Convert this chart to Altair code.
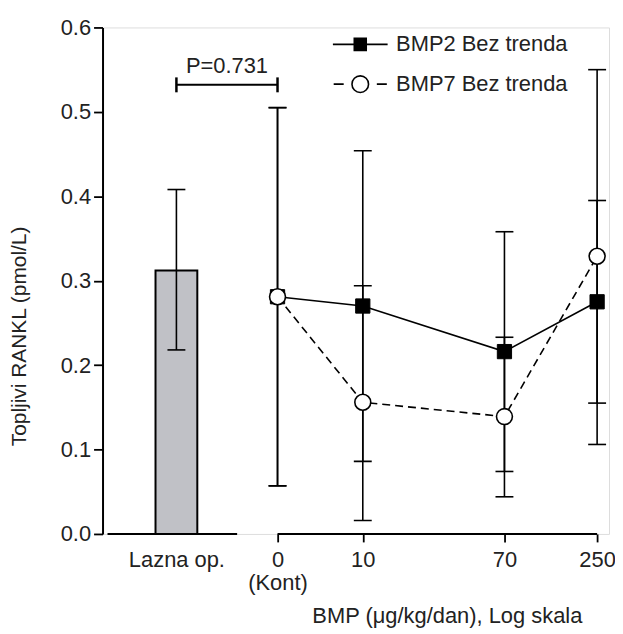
import altair as alt
import pandas as pd

# ---------------- data ----------------
sham_label = ["Lazna op."]
sham_mean = [0.312]
sham_lo = [0.218]
sham_hi = [0.408]

dose_values = [0, 10, 70, 250]
dose_labels = ["0", "10", "70", "250"]
kont_label = "(Kont)"

series_names = ["BMP2 Bez trenda", "BMP7 Bez trenda"]

bmp2_mean = [0.281, 0.270, 0.216, 0.275]
bmp2_lo = [0.057, 0.086, 0.074, 0.155]
bmp2_hi = [0.505, 0.454, 0.358, 0.395]

bmp7_mean = [0.281, 0.156, 0.139, 0.329]
bmp7_lo = [0.057, 0.016, 0.044, 0.106]
bmp7_hi = [0.505, 0.294, 0.233, 0.550]

p_text = ["P=0.731"]
p_level = [0.532]

y_ticks = [0.0, 0.1, 0.2, 0.3, 0.4, 0.5, 0.6]

# ---------------- layout constants ----------------
KONT_POS = 3.1        # where dose 0 (control) sits on the log axis
SHAM_POS = 0.773      # where the sham bar sits on the same axis
X_DOMAIN = [0.3, 275]
LEFT_AXIS_END = 1.78
FONT = "Liberation Sans"
TXT = "#222222"
W, H = 509, 509

rows = []
for name, m, lo, hi in [(series_names[0], bmp2_mean, bmp2_lo, bmp2_hi),
                        (series_names[1], bmp7_mean, bmp7_lo, bmp7_hi)]:
    for d, mv, l, h in zip(dose_values, m, lo, hi):
        rows.append(dict(series=name, dose=d, xpos=(d if d > 0 else KONT_POS),
                         mean=mv, lo=l, hi=h))
df = pd.DataFrame(rows)

sham = pd.DataFrame({"group": sham_label, "xpos": [SHAM_POS], "mean": sham_mean,
                     "lo": sham_lo, "hi": sham_hi})

bracket = pd.DataFrame({"x1": [SHAM_POS], "x2": [KONT_POS], "y": p_level, "label": p_text,
                        "xm": [(SHAM_POS * KONT_POS) ** 0.5]})
bracket_ends = pd.DataFrame({"x": [SHAM_POS, KONT_POS], "y": p_level * 2})
axis_segments = pd.DataFrame({"x1": [X_DOMAIN[0], KONT_POS], "x2": [LEFT_AXIS_END, dose_values[-1]],
                              "y": [0.0, 0.0]})

# ---------------- scales / axes ----------------
xscale = alt.Scale(type="log", domain=X_DOMAIN, nice=False)
yscale = alt.Scale(domain=[0, 0.6], nice=False)

label_expr = (
    f"datum.value < 1 ? '{sham_label[0]}' : datum.value < 5 ? ['{dose_labels[0]}', '{kont_label}'] : "
    + " : ".join([f"datum.value == {v} ? '{l}'" for v, l in zip(dose_values[1:], dose_labels[1:])])
    + " : ''"
)

xaxis = alt.Axis(
    values=[SHAM_POS, KONT_POS] + dose_values[1:],
    labelExpr=label_expr,
    domain=False, grid=False,
    tickSize=8, tickWidth=1.8, tickColor="black",
    tickOpacity={"condition": {"test": "datum.value < 1", "value": 0}, "value": 1},
    labelFont=FONT, labelFontSize=22, labelColor=TXT, labelPadding=8,
    labelLineHeight=23, labelFlush=False, labelOverlap=False,
    title="BMP (\u03bcg/kg/dan), Log skala", titleFont=FONT, titleFontSize=22,
    titleFontWeight="normal", titleColor=TXT,
    titleX=346, titleY=89, titleAnchor="middle", titleAlign="center", titleBaseline="alphabetic",
)
yaxis = alt.Axis(
    values=y_ticks, format=".1f", grid=False,
    domainColor="black", domainWidth=2,
    tickSize=9, tickWidth=1.8, tickColor="black",
    labelFont=FONT, labelFontSize=22, labelColor=TXT, labelPadding=3,
    title="Topljivi RANKL (pmol/L)", titleFont=FONT, titleFontSize=21,
    titleFontWeight="normal", titleColor=TXT,
    titleX=-83, titleY=310, titleAngle=-90, titleAlign="center", titleBaseline="middle",
)


def X(field):
    return alt.X(field, type="quantitative", scale=xscale, axis=xaxis)


def Y(field):
    return alt.Y(field, type="quantitative", scale=yscale, axis=yaxis)


def caps(data, field, size, orient="horizontal", thickness=1.6):
    return alt.Chart(data).mark_tick(orient=orient, size=size, thickness=thickness,
                                     color="black", opacity=1).encode(x=X("xpos" if orient == "horizontal" else "x"), y=Y(field))


# ---------------- layers ----------------
bar = alt.Chart(sham).mark_bar(size=42, fill="#c0c1c6", stroke="black", strokeWidth=2).encode(
    x=X("xpos"), y=Y("mean"))

sham_err = alt.Chart(sham).mark_rule(color="black", strokeWidth=1.6).encode(
    x=X("xpos"), y=Y("lo"), y2="hi")
sham_cap_hi = caps(sham, "hi", 18)
sham_cap_lo = caps(sham, "lo", 18)

err = alt.Chart(df).mark_rule(color="black", strokeWidth=1.6).encode(
    x=X("xpos"), y=Y("lo"), y2="hi")
cap_hi = caps(df, "hi", 18)
cap_lo = caps(df, "lo", 18)

line2 = alt.Chart(df[df.series == series_names[0]]).mark_line(color="black", strokeWidth=1.6).encode(
    x=X("xpos"), y=Y("mean"))
line7 = alt.Chart(df[df.series == series_names[1]]).mark_line(
    color="black", strokeWidth=1.6, strokeDash=[8, 5]).encode(x=X("xpos"), y=Y("mean"))

pts2 = alt.Chart(df[df.series == series_names[0]]).mark_point(
    shape="square", size=205, filled=True, fill="black", stroke="black", strokeWidth=1, opacity=1).encode(
    x=X("xpos"), y=Y("mean"))
pts7 = alt.Chart(df[df.series == series_names[1]]).mark_point(
    shape="circle", size=256, filled=True, fill="white", stroke="black", strokeWidth=1.6, opacity=1).encode(
    x=X("xpos"), y=Y("mean"))

br_rule = alt.Chart(bracket).mark_rule(color="black", strokeWidth=2).encode(
    x=X("x1"), x2="x2", y=Y("y"))
br_caps = caps(bracket_ends, "y", 15, orient="vertical", thickness=2.5)
br_text = alt.Chart(bracket).mark_text(font=FONT, fontSize=22, color=TXT, dy=-12,
                                       baseline="alphabetic", align="center").encode(
    x=X("xm"), y=Y("y"), text="label:N")

axis_lines = alt.Chart(axis_segments).mark_rule(color="black", strokeWidth=2).encode(
    x=X("x1"), x2="x2", y=Y("y"))

path2 = "M-1.833,0H1.833M-0.4,-0.4H0.4V0.4H-0.4Z"
path7 = ("M-1.78,0H-1.11M1.11,0H1.78M-0.555,0A0.555,0.555,0,1,0,0.555,0"
         "A0.555,0.555,0,1,0,-0.555,0Z")

leg = alt.Legend(orient="none", legendX=243, legendY=1, title=None, padding=0,
                 symbolSize=900, symbolStrokeWidth=1.6, symbolStrokeColor="black", symbolOpacity=1,
                 labelFont=FONT, labelFontSize=22, labelColor=TXT, labelOffset=20,
                 labelLimit=400, rowPadding=13)
legend_df = pd.DataFrame({"series": series_names})
legend_layer = alt.Chart(legend_df).mark_point(clip=True, filled=True, opacity=1,
                                               strokeWidth=1.6).encode(
    x=alt.value(-300), y=alt.value(-300),
    shape=alt.Shape("series:N", scale=alt.Scale(domain=series_names, range=[path2, path7]), legend=leg),
    fill=alt.Fill("series:N", scale=alt.Scale(domain=series_names, range=["black", "white"]), legend=leg),
    stroke=alt.Stroke("series:N", scale=alt.Scale(domain=series_names, range=["black", "black"]), legend=leg),
)

chart = alt.layer(
    bar, sham_err, sham_cap_hi, sham_cap_lo,
    err, cap_hi, cap_lo,
    line2, line7, pts2, pts7,
    br_rule, br_caps, br_text,
    axis_lines, legend_layer,
).properties(
    width=W, height=H,
    autosize=alt.AutoSizeParams(type="none"),
    padding={"left": 95, "top": 18, "right": 6, "bottom": 98},
).configure_view(stroke=None).configure(background="white")

chart.save("out.html", embed_options={"renderer": "svg", "actions": False})
